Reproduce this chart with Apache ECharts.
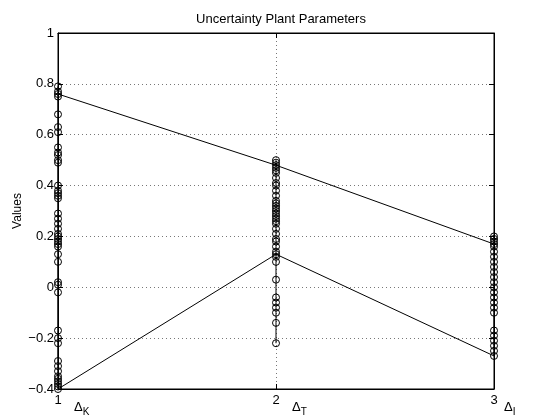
<!DOCTYPE html>
<html>
<head>
<meta charset="utf-8">
<script src="https://cdn.jsdelivr.net/npm/echarts@6/dist/echarts.min.js"></script>
<style>
  html, body { margin: 0; padding: 0; background: #fff; }
  #chart { width: 542px; height: 417px; }
</style>
</head>
<body>
<div id="chart"></div>
<script>
// parameter positions and tick labels
var xTicks = [1, 2, 3];
var deltaNames = ['K', 'T', 'I'];
var yTicks = [-0.4, -0.2, 0, 0.2, 0.4, 0.6, 0.8, 1];

// sampled uncertainty values at each parameter
var valuesK = [0.79, 0.77, 0.76, 0.75, 0.68, 0.63, 0.61, 0.55, 0.53, 0.52, 0.50, 0.49,
  0.40, 0.38, 0.37, 0.36, 0.35, 0.29, 0.27, 0.25, 0.23, 0.21, 0.20, 0.19, 0.18, 0.17,
  0.16, 0.13, 0.10, 0.02, 0.01, -0.02, -0.17, -0.20, -0.22, -0.29, -0.31, -0.33,
  -0.35, -0.36, -0.37, -0.38, -0.39, -0.40];
var valuesT = [0.50, 0.49, 0.48, 0.47, 0.46, 0.45, 0.43, 0.41, 0.40, 0.38, 0.36, 0.34,
  0.33, 0.32, 0.31, 0.30, 0.29, 0.28, 0.27, 0.26, 0.25, 0.23, 0.21, 0.19, 0.18, 0.16,
  0.14, 0.13, 0.12, 0.10, 0.03, -0.04, -0.06, -0.08, -0.10, -0.14, -0.22];
var valuesI = [0.20, 0.19, 0.18, 0.17, 0.16, 0.14, 0.12, 0.10, 0.08, 0.06, 0.04, 0.02,
  0.00, -0.02, -0.04, -0.06, -0.08, -0.10, -0.17, -0.19, -0.21, -0.23, -0.25, -0.27];

// upper and lower bound lines
var upperBound = [0.76, 0.48, 0.17];
var lowerBound = [-0.40, 0.13, -0.27];

var chart = echarts.init(document.getElementById('chart'));
var font = 'Liberation Sans, Arial, Helvetica, sans-serif';

function column(x, vals) {
  return vals.slice().sort(function (a, b) { return a - b; }).map(function (v) { return [x, v]; });
}

var circleSeries = [valuesK, valuesT, valuesI].map(function (vals, i) {
  return {
    type: 'line',
    data: column(xTicks[i], vals),
    symbol: 'circle',
    symbolSize: 7,
    showSymbol: true,
    clip: false,
    lineStyle: { color: '#000', width: 1 },
    itemStyle: { color: 'transparent', borderColor: '#000', borderWidth: 1 },
    animation: false,
    z: 3
  };
});

var boundSeries = [upperBound, lowerBound].map(function (vals) {
  return {
    type: 'line',
    data: vals.map(function (v, i) { return [xTicks[i], v]; }),
    showSymbol: false,
    clip: false,
    lineStyle: { color: '#000', width: 1 },
    animation: false,
    z: 2
  };
});

var option = {
  backgroundColor: '#fff',
  textStyle: { fontFamily: font },
  title: {
    text: 'Uncertainty Plant Parameters',
    left: 276,
    top: 8,
    textAlign: 'center',
    textStyle: { fontFamily: font, fontSize: 13, fontWeight: 'normal', color: '#000' }
  },
  grid: {
    left: 58, right: 48, top: 33, bottom: 28,
    outerBoundsMode: 'none', containLabel: false,
    show: true, borderColor: '#000', borderWidth: 1
  },
  xAxis: [
    {
      type: 'value', min: 1, max: 3, interval: 1, position: 'bottom',
      axisLine: { onZero: false, lineStyle: { color: '#000' } },
      axisTick: { inside: true, length: 5, lineStyle: { color: '#000' } },
      axisLabel: { color: '#000', fontSize: 13, margin: 5, showMinLabel: true, showMaxLabel: true },
      splitLine: { show: true, lineStyle: { color: '#777', type: [1, 3], width: 1 } }
    },
    {
      type: 'value', min: 1, max: 3, interval: 1, position: 'bottom',
      axisLine: { show: false, onZero: false }, axisTick: { show: false }, splitLine: { show: false },
      axisLabel: {
        margin: 9, align: 'left', showMinLabel: true, showMaxLabel: true,
        formatter: function (v) {
          var i = xTicks.indexOf(v);
          var d = v === 3 ? 'd3' : 'd';
          return '{' + d + '|Δ}{s|' + deltaNames[i] + '}';
        },
        rich: {
          d: { fontSize: 13, color: '#000', padding: [0, 0, 0, 16], fontFamily: font },
          d3: { fontSize: 13, color: '#000', padding: [0, 0, 0, 10], fontFamily: font },
          s: { fontSize: 10, color: '#000', padding: [9, 0, 0, 0], fontFamily: font }
        }
      }
    },
    {
      type: 'value', min: 1, max: 3, interval: 1, position: 'top',
      axisLine: { onZero: false, lineStyle: { color: '#000' } },
      axisTick: { inside: true, length: 5, lineStyle: { color: '#000' } },
      axisLabel: { show: false }, splitLine: { show: false }
    }
  ],
  yAxis: [
    {
      type: 'value', min: -0.4, max: 1, interval: 0.2, position: 'left',
      name: 'Values', nameLocation: 'middle', nameGap: 34, nameMoveOverlap: false,
      nameTextStyle: { color: '#000', fontSize: 12, fontFamily: font },
      axisLine: { onZero: false, lineStyle: { color: '#000' } },
      axisTick: { inside: true, length: 5, lineStyle: { color: '#000' } },
      axisLabel: {
        color: '#000', fontSize: 13, margin: 4,
        formatter: function (v) {
          var r = Math.round(v * 10) / 10;
          return String(r).replace('-', '\u2212');
        }
      },
      splitLine: { show: true, lineStyle: { color: '#777', type: [1, 3], width: 1 } }
    },
    {
      type: 'value', min: -0.4, max: 1, interval: 0.2, position: 'right',
      axisLine: { onZero: false, lineStyle: { color: '#000' } },
      axisTick: { inside: true, length: 5, lineStyle: { color: '#000' } },
      axisLabel: { show: false }, splitLine: { show: false }
    }
  ],
  series: boundSeries.concat(circleSeries)
};

chart.setOption(option);
</script>
</body>
</html>
